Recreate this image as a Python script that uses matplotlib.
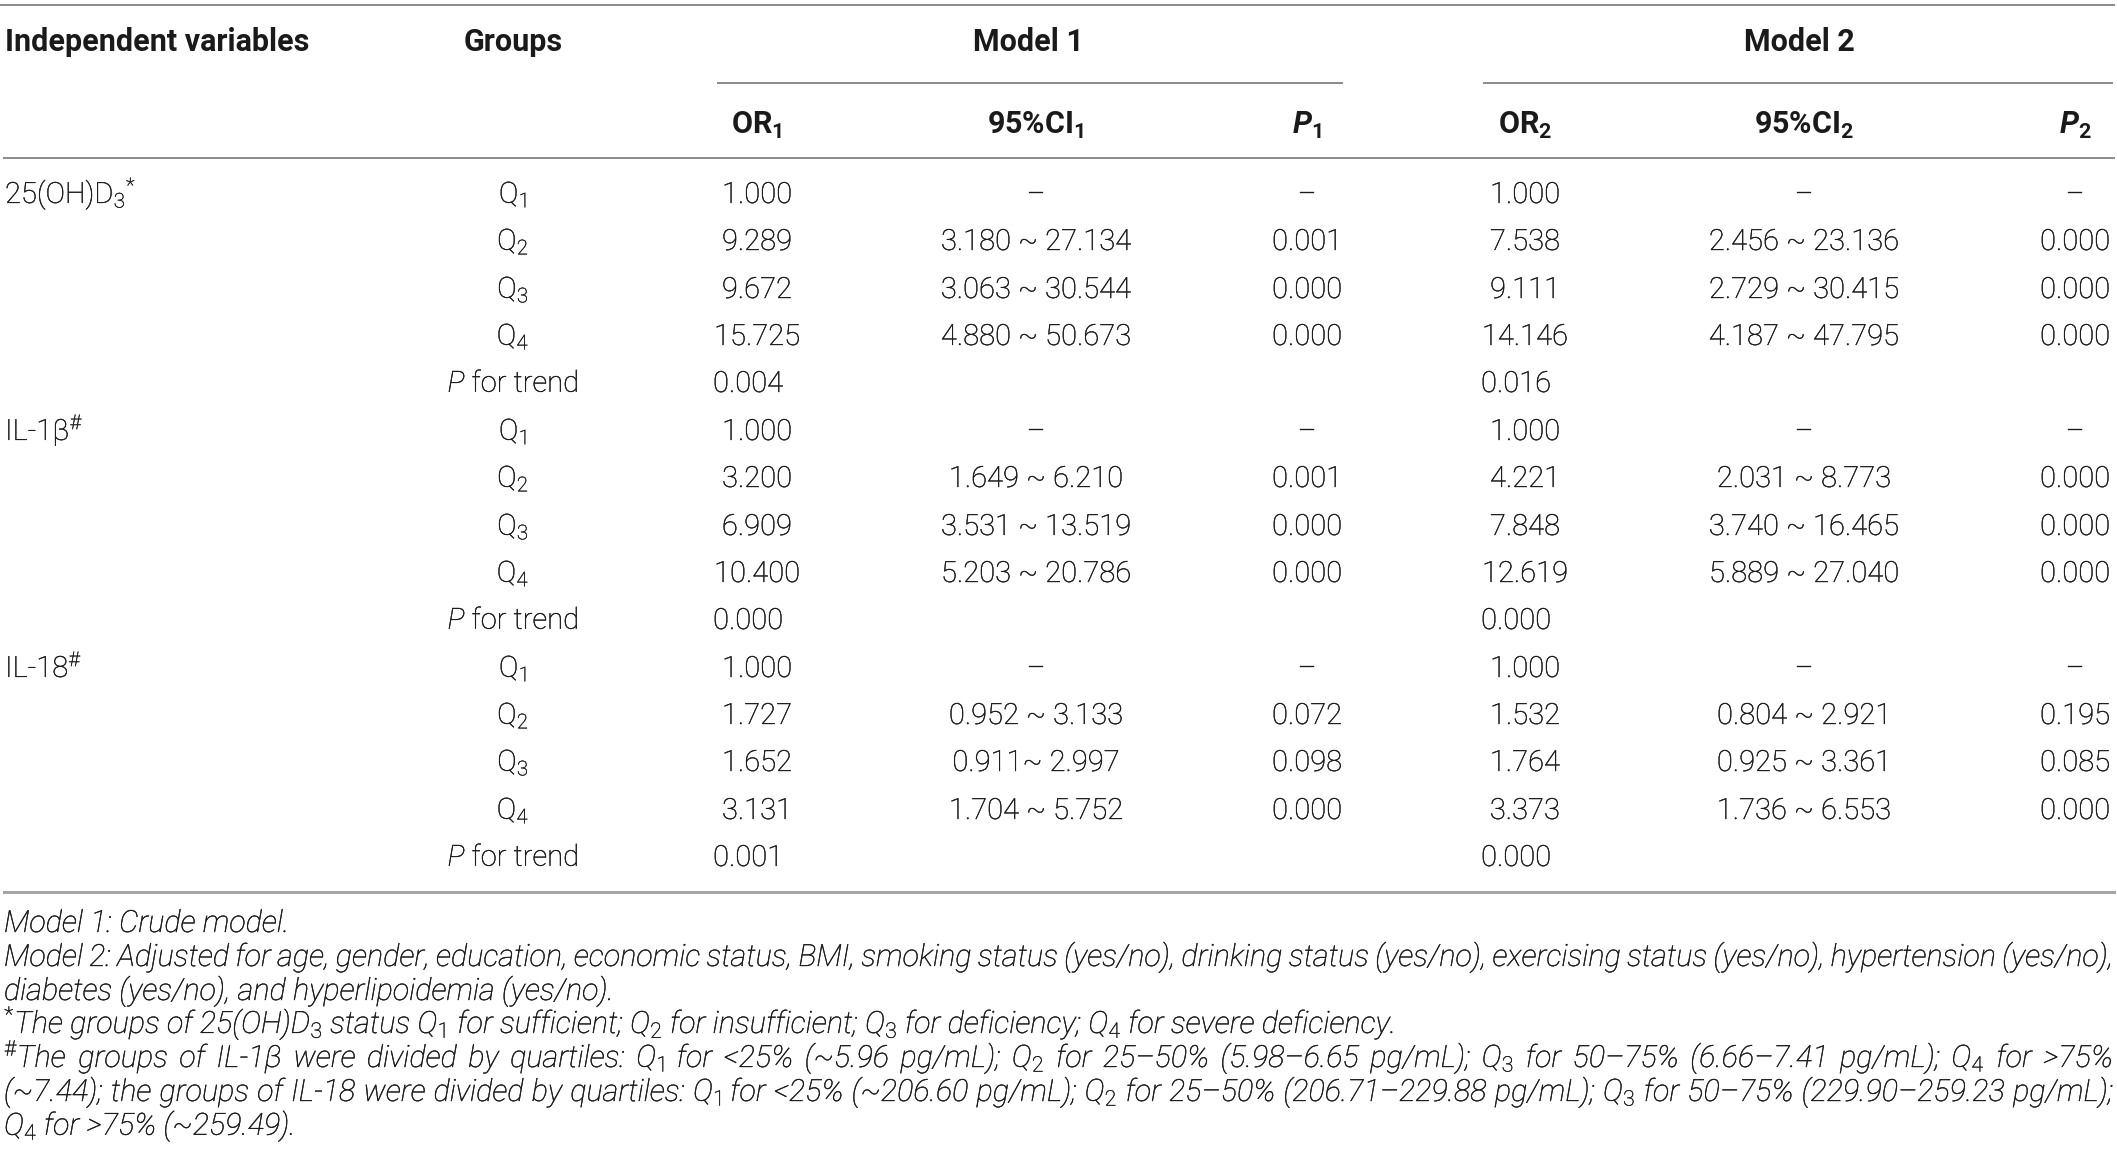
import matplotlib.pyplot as plt
import matplotlib.patheffects as pe

plt.rcParams['font.family'] = ['Roboto', 'DejaVu Sans']
plt.rcParams['mathtext.fontset'] = 'custom'
plt.rcParams['mathtext.rm'] = 'Roboto:light'
plt.rcParams['mathtext.it'] = 'Roboto:italic:light'
plt.rcParams['mathtext.bf'] = 'Roboto:bold'
plt.rcParams['mathtext.bfit'] = 'Roboto:italic:bold'

# table content
variables = ["25(OH)D$_3$$^{*}$", "IL-1β$^\\#$", "IL-18$^\\#$"]
groups = ["Q$_1$", "Q$_2$", "Q$_3$", "Q$_4$"]
trend_label = "$\\mathit{P}$ for trend"

or1 = [["1.000", "9.289", "9.672", "15.725"],
       ["1.000", "3.200", "6.909", "10.400"],
       ["1.000", "1.727", "1.652", "3.131"]]
ci1 = [["–", "3.180 ~ 27.134", "3.063 ~ 30.544", "4.880 ~ 50.673"],
       ["–", "1.649 ~ 6.210", "3.531 ~ 13.519", "5.203 ~ 20.786"],
       ["–", "0.952 ~ 3.133", "0.911~ 2.997", "1.704 ~ 5.752"]]
p1 = [["–", "0.001", "0.000", "0.000"],
      ["–", "0.001", "0.000", "0.000"],
      ["–", "0.072", "0.098", "0.000"]]
trend1 = ["0.004", "0.000", "0.001"]

or2 = [["1.000", "7.538", "9.111", "14.146"],
       ["1.000", "4.221", "7.848", "12.619"],
       ["1.000", "1.532", "1.764", "3.373"]]
ci2 = [["–", "2.456 ~ 23.136", "2.729 ~ 30.415", "4.187 ~ 47.795"],
       ["–", "2.031 ~ 8.773", "3.740 ~ 16.465", "5.889 ~ 27.040"],
       ["–", "0.804 ~ 2.921", "0.925 ~ 3.361", "1.736 ~ 6.553"]]
p2 = [["–", "0.000", "0.000", "0.000"],
      ["–", "0.000", "0.000", "0.000"],
      ["–", "0.195", "0.085", "0.000"]]
trend2 = ["0.016", "0.000", "0.000"]

headers = ["OR$_\\mathbf{1}$", "95%CI$_\\mathbf{1}$", "$\\mathbfit{P}_\\mathbf{1}$",
           "OR$_\\mathbf{2}$", "95%CI$_\\mathbf{2}$", "$\\mathbfit{P}_\\mathbf{2}$"]

# footnote lines, and whether each is justified to the full width
notes = [
    ("Model 1: Crude model.", False),
    ("Model 2: Adjusted for age, gender, education, economic status, BMI, smoking status (yes/no), drinking status (yes/no), exercising status (yes/no), hypertension (yes/no),", True),
    ("diabetes (yes/no), and hyperlipoidemia (yes/no).", False),
    ("$^{*}$The groups of 25(OH)D$_3$ status Q$_1$ for sufficient; Q$_2$ for insufficient; Q$_3$ for deficiency; Q$_4$ for severe deficiency.", False),
    ("$^\\#$The groups of IL-1β were divided by quartiles: Q$_1$ for <25% (~5.96 pg/mL); Q$_2$ for 25–50% (5.98–6.65 pg/mL); Q$_3$ for 50–75% (6.66–7.41 pg/mL); Q$_4$ for >75%", True),
    ("(~7.44); the groups of IL-18 were divided by quartiles: Q$_1$ for <25% (~206.60 pg/mL); Q$_2$ for 25–50% (206.71–229.88 pg/mL); Q$_3$ for 50–75% (229.90–259.23 pg/mL);", True),
    ("Q$_4$ for >75% (~259.49).", False),
]

W, H = 2117, 1165
fig = plt.figure(figsize=(W / 100, H / 100), dpi=100)
ax = fig.add_axes([0, 0, 1, 1])
ax.set_xlim(0, W)
ax.set_ylim(H, 0)
ax.axis('off')

ink = '#1a1a1a'
rule = '#8a8a8a'
col_x = [757, 1036, 1307, 1525, 1804, 2075]
group_x = 513
left, right = 4, 2113
thicken = [pe.withStroke(linewidth=0.25, foreground=ink)]

# rules
ax.plot([0, 2114], [5, 5], color=rule, lw=1.4)
ax.plot([718, 1342], [83, 83], color=rule, lw=1.4)
ax.plot([1484, 2112], [83, 83], color=rule, lw=1.4)
ax.plot([4, 2114], [158, 158], color=rule, lw=1.4)
ax.plot([4, 2114], [892, 892], color='#a5a5a5', lw=2.2)

# header
hd = dict(fontsize=22, weight='bold', color=ink, va='baseline')
ax.text(5, 51, "Independent variables", ha='left', **hd)
ax.text(group_x, 51, "Groups", ha='center', **hd)
ax.text(1028, 51, "Model 1", ha='center', **hd)
ax.text(1799, 51, "Model 2", ha='center', **hd)
for x, h in zip(col_x, headers):
    ax.text(x, 134, h, ha='center', **hd)

# body
bd = dict(fontsize=21, weight='light', color=ink, va='baseline', path_effects=thicken)
row_h = 47.36
y0 = 203
for b, var in enumerate(variables):
    base = y0 + b * 5 * row_h
    ax.text(5, round(base), var, ha='left', **bd)
    for i, g in enumerate(groups):
        y = round(base + i * row_h)
        ax.text(group_x, y, g, ha='center', **bd)
        cells = [or1[b][i], ci1[b][i], p1[b][i], or2[b][i], ci2[b][i], p2[b][i]]
        for x, c in zip(col_x, cells):
            ax.text(x, y, c, ha='center', **bd)
    y = round(base + 4 * row_h)
    ax.text(group_x, y, trend_label, ha='center', **bd)
    ax.text(col_x[0] - 9, y, trend1[b], ha='center', **bd)
    ax.text(col_x[3] - 9, y, trend2[b], ha='center', **bd)

# footnotes
nt = dict(fontsize=22, style='italic', weight='light', color=ink, va='baseline',
          path_effects=thicken)
renderer = fig.canvas.get_renderer()
for k, (line, justify) in enumerate(notes):
    y = round(932 + k * 33.8)
    if not justify:
        ax.text(left, y, line, ha='left', **nt)
        continue
    words = line.split(' ')
    texts = [ax.text(0, y, w, ha='left', **nt) for w in words]
    widths = [t.get_window_extent(renderer).width for t in texts]
    gap = (right - left - sum(widths)) / (len(words) - 1)
    x = left
    for t, w in zip(texts, widths):
        t.set_x(x)
        x += w + gap

fig.savefig('out.png', dpi=100)
